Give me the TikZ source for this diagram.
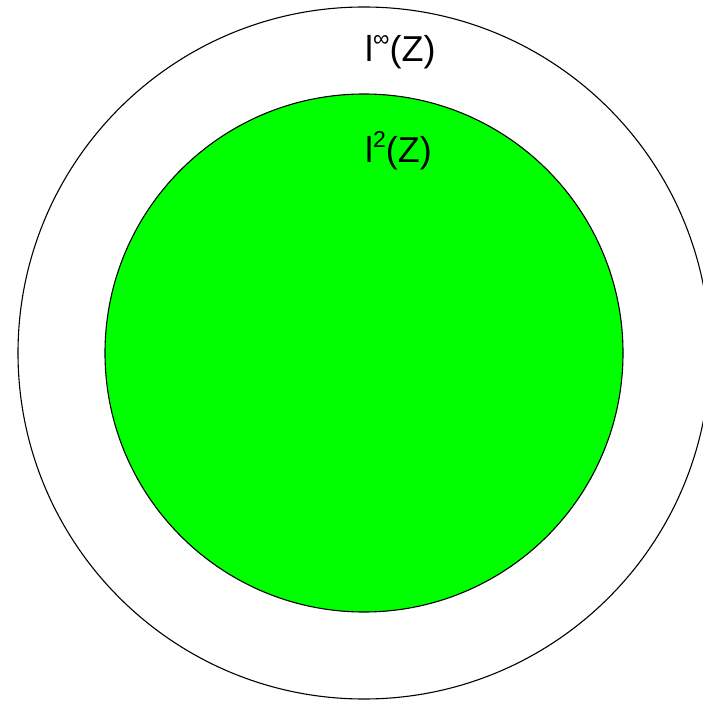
\documentclass[tikz,border=0pt]{standalone}
\usepackage{fontspec}
\setmainfont{Liberation Sans}

% Esponente alzato
\newcommand{\espo}[1]{\raisebox{0.42em}{\fontsize{23}{25}\selectfont #1}}

\begin{document}
\begin{tikzpicture}[x=1pt,y=1pt]

% Colori
\definecolor{colL2}{HTML}{00FF00}

% Area dell'immagine
\useasboundingbox (0,0) rectangle (703,702);
\clip (0,0) rectangle (703,702);

% Centro comune
\coordinate (centro) at (364,349);

% Cerchi
\draw[line width=1.1pt] (centro) circle[radius=346pt];
\fill[colL2] (centro) circle[radius=259pt];
\draw[line width=1.1pt] (centro) circle[radius=259pt];

% Etichette
\node[anchor=base west, inner sep=0pt, font=\fontsize{36}{40}\selectfont] (linf) at (365,640) {l\espo{∞}(Z)};
\node[anchor=base west, inner sep=0pt, font=\fontsize{36}{40}\selectfont] (ldue) at (365,539) {l\espo{2}(Z)};
\end{tikzpicture}
\end{document}
